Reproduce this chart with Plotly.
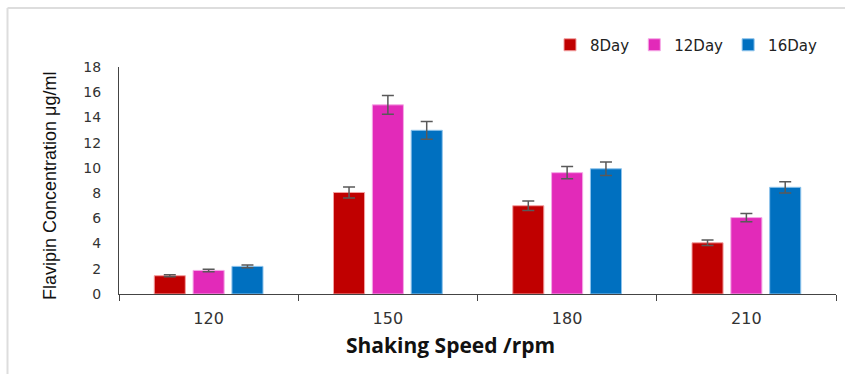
import plotly.graph_objects as go

speeds = ["120", "150", "180", "210"]
series_names = ["8Day", "12Day", "16Day"]
values_8 = [1.45, 8.05, 7.0, 4.06]
values_12 = [1.87, 15.0, 9.62, 6.06]
values_16 = [2.19, 12.98, 9.93, 8.46]
err_8 = [0.08, 0.43, 0.38, 0.22]
err_12 = [0.1, 0.75, 0.49, 0.33]
err_16 = [0.1, 0.7, 0.53, 0.45]
y_ticks = [0, 2, 4, 6, 8, 10, 12, 14, 16, 18]

colors = ["#C00000", "#E22AB9", "#0070C0"]
edge = ["#F3A0A0", "#F5A9E6", "#8DC3EC"]

fig = go.Figure()
for name, vals, errs, c, e in zip(series_names, [values_8, values_12, values_16],
                                   [err_8, err_12, err_16], colors, edge):
    fig.add_trace(go.Bar(
        x=speeds, y=vals, name=name,
        marker=dict(color=c, line=dict(color=e, width=1)),
        error_y=dict(type="data", array=errs, visible=True, color="#595959",
                     thickness=1.5, width=6),
    ))

L, R, T, B = 119, 9, 67, 80
W, H = 845, 374
pw = W - L - R
ph = H - T - B

def px_x(p):
    return (p - L) / pw

def px_y(p):
    return (H - B - p) / ph

fig.update_layout(
    width=W, height=H,
    margin=dict(l=L, r=R, t=T, b=B),
    paper_bgcolor="white", plot_bgcolor="white",
    barmode="group", bargap=0.35, bargroupgap=0.2,
    showlegend=True,
    legend=dict(orientation="h", x=px_x(550), y=px_y(45), xanchor="left", yanchor="middle",
                font=dict(family="DejaVu Sans", size=15, color="#222222"),
                itemwidth=30, traceorder="normal", bgcolor="rgba(0,0,0,0)"),
    xaxis=dict(type="category", showline=True, linecolor="#444444", linewidth=1.2,
               ticks="outside", tickson="boundaries", ticklen=6, tickcolor="#444444",
               ticklabelstandoff=10,
               tickfont=dict(family="DejaVu Sans", size=16, color="#333333"),
               showgrid=False, zeroline=False),
    yaxis=dict(range=[0, 18], tickvals=y_ticks, showline=True, linecolor="#444444", linewidth=1.2,
               ticks="", showgrid=False, zeroline=False, ticklabelstandoff=14,
               tickfont=dict(family="DejaVu Sans", size=14, color="#333333")),
    shapes=[
        dict(type="line", xref="paper", yref="paper", x0=px_x(7.5), x1=px_x(W + 5),
             y0=px_y(8), y1=px_y(8), line=dict(color="#DDDDDD", width=2)),
        dict(type="line", xref="paper", yref="paper", x0=px_x(7.5), x1=px_x(7.5),
             y0=px_y(8), y1=px_y(H + 5), line=dict(color="#DDDDDD", width=2)),
    ],
    annotations=[
        dict(text="Shaking Speed /rpm", xref="paper", yref="paper", x=px_x(450), y=px_y(345),
             showarrow=False, xanchor="center", yanchor="middle",
             font=dict(family="Open Sans", size=21, color="#111111", weight="bold")),
        dict(text="Flavipin Concentration μg/ml", xref="paper", yref="paper", x=px_x(50), y=px_y(186),
             showarrow=False, xanchor="center", yanchor="middle", textangle=-90,
             font=dict(family="Liberation Sans Narrow, Liberation Sans", size=18, color="#111111")),
    ],
)

fig.write_html("out.html")
